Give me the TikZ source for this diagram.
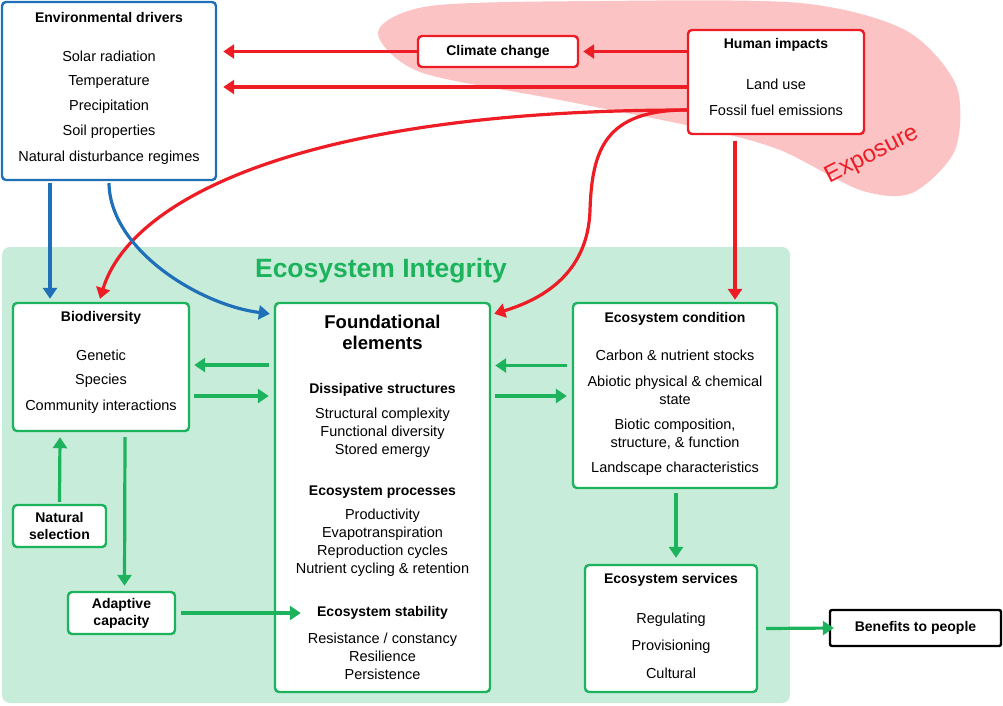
\documentclass[tikz,border=0pt]{standalone}
\usepackage{fontspec}
\setmainfont{Liberation Sans}
\usetikzlibrary{positioning,arrows.meta}
\definecolor{drvblue}{HTML}{1F70B8}
\definecolor{impred}{HTML}{EE1C25}
\definecolor{intgreen}{HTML}{1DB35C}
\definecolor{bggreen}{HTML}{C7EDDA}
\definecolor{blobpink}{HTML}{FBC3C3}
\tikzset{
  box/.style={draw,line width=2.4pt,rounded corners=4pt,fill=white},
  gbox/.style={box,draw=intgreen},
  ttl/.style={font=\bfseries\fontsize{14}{17}\selectfont,align=center},
  itm/.style={font=\fontsize{14.5}{18}\selectfont,align=center},
  arr/.style={line width=3.2pt,-{Triangle[length=11pt,width=14pt]}}
}
\begin{document}
\begin{tikzpicture}[x=1pt,y=-1pt]
  \useasboundingbox (0,0) rectangle (1003,705);
  % exposure region
  \fill [blobpink] plot [smooth cycle] coordinates {(378,32) (430,6) (600,1) (800,3) (905,30) (956,85) (955,150) (912,193) (860,190) (780,150) (700,128) (560,100) (420,72)};
  \node [rotate=27,text=impred,font=\fontsize{24}{28}\selectfont] (expo) at (872,155) {Exposure};
  % integrity region
  \fill [bggreen,rounded corners=8pt] (2,247) rectangle (790,703);
  \node [text=intgreen,font=\bfseries\fontsize{26.5}{30}\selectfont] (integ) at (381,271) {Ecosystem Integrity};

  % drivers
  \node [box,draw=drvblue,minimum width=214pt,minimum height=178pt] (drv) at (109,91) {};
  \node [ttl] at (109,17) {Environmental drivers};
  \node [itm] at (109,56) {Solar radiation};
  \node [itm] at (109,82) {Temperature};
  \node [itm] at (109,107) {Precipitation};
  \node [itm] at (109,132) {Soil properties};
  \node [itm] at (109,158) {Natural disturbance regimes};

  \node [box,draw=impred,minimum width=160pt,minimum height=31pt,ttl] (clim) at (498,51.5) {Climate change};
  \node [box,draw=impred,minimum width=176pt,minimum height=104pt] (hum) at (776,82) {};
  \node [ttl] at (776,45) {Human impacts};
  \node [itm] at (776,84) {Land use};
  \node [itm] at (776,110) {Fossil fuel emissions};

  % integrity boxes
  \node [gbox,minimum width=176pt,minimum height=128pt] (bio) at (101,367) {};
  \node [ttl] at (101,318) {Biodiversity};
  \node [itm] at (101,355) {Genetic};
  \node [itm] at (101,381) {Species};
  \node [itm] at (101,407) {Community interactions};

  \node [gbox,minimum width=215pt,minimum height=389pt] (found) at (382.5,497.5) {};
  \node [ttl,font=\bfseries\fontsize{18.5}{21}\selectfont] at (382.5,332) {Foundational\\elements};
  \node [ttl] at (382.5,390) {Dissipative structures};
  \node [itm] at (382.5,433) {Structural complexity\\Functional diversity\\Stored emergy};
  \node [ttl] at (382.5,492) {Ecosystem processes};
  \node [itm] at (382.5,543) {Productivity\\Evapotranspiration\\Reproduction cycles\\Nutrient cycling \& retention};
  \node [ttl] at (382.5,613) {Ecosystem stability};
  \node [itm] at (382.5,656) {Resistance / constancy\\Resilience\\Persistence};

  \node [gbox,minimum width=204pt,minimum height=185pt] (cond) at (675,395.5) {};
  \node [ttl] at (675,319) {Ecosystem condition};
  \node [itm] at (675,355) {Carbon \& nutrient stocks};
  \node [itm] at (675,390) {Abiotic physical \& chemical\\state};
  \node [itm] at (675,434) {Biotic composition,\\structure, \& function};
  \node [itm] at (675,469) {Landscape characteristics};

  \node [gbox,minimum width=93pt,minimum height=42pt,ttl] (nat) at (59.5,526) {Natural\\selection};
  \node [gbox,minimum width=107pt,minimum height=42pt,ttl] (adap) at (121.5,613) {Adaptive\\capacity};

  \node [gbox,minimum width=172pt,minimum height=127pt] (serv) at (671,628.5) {};
  \node [ttl] at (671,580) {Ecosystem services};
  \node [itm] at (671,620) {Regulating};
  \node [itm] at (671,647) {Provisioning};
  \node [itm] at (671,673) {Cultural};

  \node [box,draw=black,rounded corners=2pt,minimum width=171pt,minimum height=36pt,ttl] (ben) at (915.5,628) {Benefits to people};

  % red connectors
  \draw [arr,impred] (clim.west) -- ([xshift=6pt]drv.east |- clim.west);
  \draw [arr,impred] (hum.west |- clim.east) -- ([xshift=4pt]clim.east);
  \draw [arr,impred] (hum.west |- 0,87) -- ([xshift=6pt]drv.east |- 0,87);
  \draw [arr,impred] (hum.west |- 0,110) .. controls (300,110) and (130,200) .. ([xshift=-1pt,yshift=3pt]bio.north);
  \draw [arr,impred] (hum.west |- 0,110) .. controls (605,110) and (592,150) .. (590,210) .. controls (588,275) and (540,300) .. ([xshift=3pt,yshift=-12pt]found.north east);
  \draw [arr,impred] ([xshift=-41pt,yshift=-6pt]hum.south) -- ([xshift=60pt,yshift=2pt]cond.north);

  % blue connectors
  \draw [arr,drvblue] ([xshift=-59pt,yshift=-2pt]drv.south) -- ([xshift=-51pt,yshift=3pt]bio.north);
  \draw [arr,drvblue] ([yshift=-2pt]drv.south) .. controls (110,250) and (200,305) .. ([xshift=-4pt,yshift=-12pt]found.north west);

  % green connectors
  \draw [arr,intgreen] ([xshift=-5pt,yshift=2pt]found.west |- bio.east) -- ([xshift=4pt,yshift=2pt]bio.east);
  \draw [arr,intgreen] ([xshift=4pt,yshift=-29pt]bio.east) -- ([xshift=-5pt,yshift=-29pt]found.west |- bio.east);
  \draw [arr,intgreen] ([xshift=-5pt,yshift=30pt]cond.west) -- ([xshift=4pt,yshift=30pt]found.east |- cond.west);
  \draw [arr,intgreen] ([xshift=4pt]found.east |- 0,396) -- ([xshift=-5pt]cond.west |- 0,396);
  \draw [arr,intgreen] ([yshift=2pt]nat.north) -- ([xshift=-41pt,yshift=-5pt]bio.south);
  \draw [arr,intgreen] ([xshift=24pt,yshift=-5pt]bio.south) -- ([xshift=3pt,yshift=5pt]adap.north);
  \draw [arr,intgreen] ([xshift=5pt]adap.east) -- ([xshift=27pt]found.west |- adap.east);
  \draw [arr,intgreen] ([xshift=1pt,yshift=-4pt]cond.south) -- ([xshift=5pt,yshift=6pt]serv.north);
  \draw [arr,intgreen] ([xshift=8pt]serv.east) -- ([xshift=5pt]ben.west);
\end{tikzpicture}
\end{document}
